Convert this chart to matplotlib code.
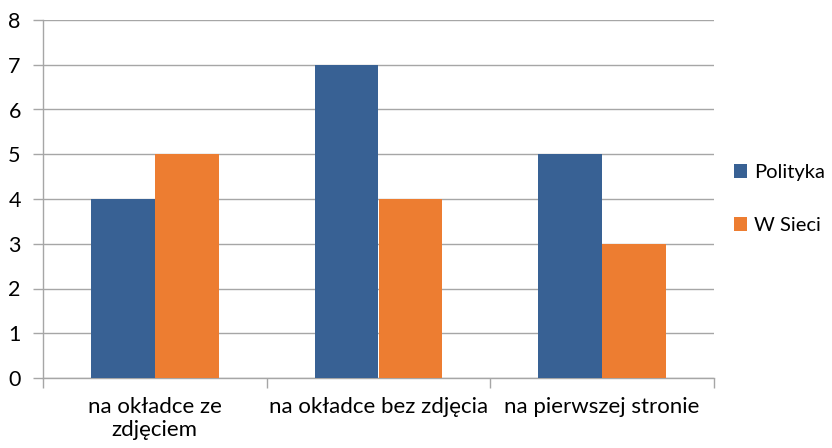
import matplotlib
matplotlib.use("Agg")
import matplotlib.pyplot as plt
import numpy as np

categories = ["na okładce ze\nzdjęciem", "na okładce bez zdjęcia", "na pierwszej stronie"]
series_names = ["Polityka", "W Sieci"]
polityka = [4, 7, 5]
w_sieci = [5, 4, 3]
yticks = [0, 1, 2, 3, 4, 5, 6, 7, 8]

colors = ["#386194", "#ED7D31"]
grid_c = "#A6A6A6"

plt.rcParams['font.family'] = ['Lato', 'DejaVu Sans']

fig = plt.figure(figsize=(8.32, 4.48), dpi=100)
ax = fig.add_axes([43/832, 1 - 378/448, (714-43)/832, (378-20)/448])

x = np.arange(len(categories))
w = 1 / 3.5
ax.bar(x - w/2, polityka, width=w, color=colors[0], label=series_names[0], zorder=3)
ax.bar(x + w/2, w_sieci, width=w, color=colors[1], label=series_names[1], zorder=3)

ax.set_xlim(-0.5, 2.5)
ax.set_ylim(0, 8)
ax.set_yticks(yticks)
ax.set_yticklabels([str(v) for v in yticks], fontsize=15.5)
ax.yaxis.grid(True, color=grid_c, linewidth=1, zorder=0)
ax.set_axisbelow(True)

ax.set_xticks([-0.5, 0.5, 1.5, 2.5])
ax.set_xticklabels([])
ax.set_xticks(x, minor=True)
ax.set_xticklabels(categories, minor=True, fontsize=16, linespacing=1.15)
ax.tick_params(axis='x', which='minor', length=0, pad=14)
ax.tick_params(axis='x', which='major', length=7, color=grid_c, width=1, direction='out')
ax.tick_params(axis='y', length=7, color=grid_c, width=1, direction='out', pad=9)

for s in ['top', 'right']:
    ax.spines[s].set_visible(False)
for s in ['left', 'bottom']:
    ax.spines[s].set_color(grid_c)
    ax.spines[s].set_linewidth(1)

leg = fig.legend(loc='center left', bbox_to_anchor=(734/832, 1 - 199/448), frameon=False,
                 fontsize=14.5, handlelength=0.65, handleheight=0.65, handletextpad=0.35,
                 labelspacing=1.8, borderpad=0, borderaxespad=0)

fig.savefig("out.png", dpi=100)
